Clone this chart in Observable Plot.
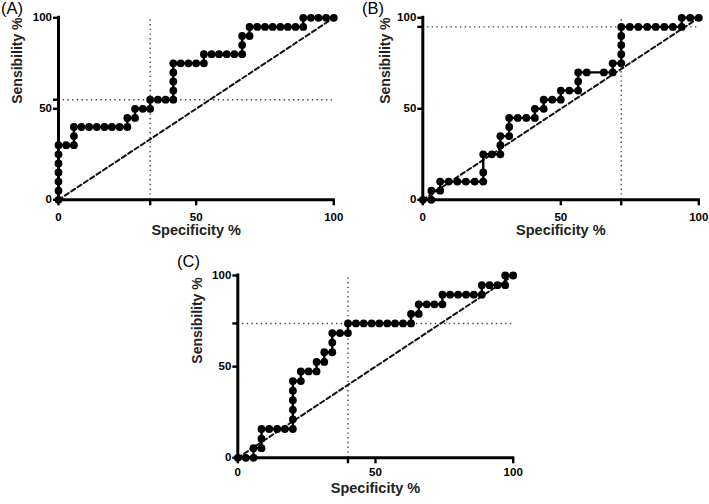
<!DOCTYPE html>
<html>
<head>
<meta charset="utf-8">
<script src="https://cdn.jsdelivr.net/npm/d3@7"></script>
<script src="https://cdn.jsdelivr.net/npm/@observablehq/plot@0.6"></script>
<style>
  html, body { margin: 0; padding: 0; background: #fff; }
  #root { position: relative; width: 709px; height: 504px; overflow: hidden; font-family: "Liberation Sans", Arial, sans-serif; }
  #root > div { position: absolute; }
</style>
</head>
<body>
<div id="root"></div>
<script>
// ---------- data ----------
const panelLabels = ["(A)", "(B)", "(C)"];
const xTitle = "Specificity %";
const yTitle = "Sensibility %";
const tickLabels = [0, 50, 100];
const chance = [0, 100];

// Panel A
const specA = [0,0,0,0,0,0,0, 2.8, 5.6,5.6,5.6, 8.3,11.1,13.9,16.7,19.4,22.2,25, 25, 27.8,27.8, 30.6, 33.3,33.3,
  36.1,38.9,41.7, 41.7,41.7,41.7,41.7, 44.4,47.2,50,52.8, 52.8, 55.6,58.3,61.1,63.9,66.7, 66.7,66.7, 69.4,69.4,
  72.2,75,77.8,80.6,83.3,86.1,88.9, 88.9, 91.7,94.4,97.2,100];
const sensA = [0,5,10,15,20,25,30, 30, 30,35,40, 40,40,40,40,40,40,40, 45, 45,50, 50, 50,55,
  55,55,55, 60,65,70,75, 75,75,75,75, 80, 80,80,80,80,80, 85,90, 90,95,
  95,95,95,95,95,95,95, 100, 100,100,100,100];
const cutA = {spec: 33.3, sens: 55};

// Panel B
const specB = [0,3.1,3.1,6.3,6.3,9.4,12.5,15.6,18.8,21.9,21.9,21.9, 25,28.1,28.1,28.1, 31.3,31.3,31.3,
  34.4,37.5,40.6,40.6, 43.8,43.8, 46.9,50,50, 53.1,56.3,56.3,56.3, 59.4,65.6,68.8,68.8,
  71.9,71.9,71.9,71.9,71.9, 75,78.1,81.3,84.4,87.5,90.6,93.8,93.8, 96.9,100];
const sensB = [0,0,5,5,10,10,10,10,10,10,15,25, 25,25,30,35, 35,40,45,
  45,45,45,50, 50,55, 55,55,60, 60,60,65,70, 70,70,70,75,
  75,80,85,90,95, 95,95,95,95,95,95,95,100, 100,100];
const cutB = {spec: 71.9, sens: 95};

// Panel C
const specC = [0,2.9,5.7,5.7,8.6,8.6,8.6,11.4,14.3,17.1,20,20,20,20,20,20, 22.9,22.9, 25.7,28.6,28.6, 31.4,31.4,
  34.3,34.3,34.3, 37.1,40,40, 42.9,45.7,48.6,51.4,54.3,57.1,60,62.9, 62.9, 65.7,65.7, 68.6,71.4,74.3, 74.3,
  77.1,80,82.9,85.7,88.6, 88.6, 91.4,94.3,97.1, 97.1, 100];
const sensC = [0,0,0,5.3,5.3,10.5,15.8,15.8,15.8,15.8,15.8,21.1,26.3,31.6,36.8,42.1, 42.1,47.4, 47.4,47.4,52.6, 52.6,57.9,
  57.9,63.2,68.4, 68.4,68.4,73.7, 73.7,73.7,73.7,73.7,73.7,73.7,73.7,73.7, 78.9, 78.9,84.2, 84.2,84.2,84.2, 89.5,
  89.5,89.5,89.5,89.5,89.5, 94.7, 94.7,94.7,94.7, 100, 100];
const cutC = {spec: 40, sens: 73.7};

// ---------- drawing ----------
const FONT = "'Liberation Sans', Arial, Helvetica, sans-serif";

function panel(opts) {
  const {spec, sens, cut, label, left, top, width, height, mL, mR, mT, mB, labelPos, yTitleDx, yTitleDy, xTitleDy, xTickPad} = opts;
  const data = spec.map((s, i) => ({spec: s, sens: sens[i]}));
  const fmt = d => tickLabels.includes(d) ? String(d) : "";
  const svg = Plot.plot({
    width, height,
    marginLeft: mL, marginRight: mR, marginTop: mT, marginBottom: mB,
    x: {domain: [0, 100], axis: null},
    y: {domain: [0, 100], axis: null},
    style: {fontFamily: FONT, background: "transparent", overflow: "visible", color: "#000"},
    marks: [
      Plot.ruleX([cut.spec], {y1: 0, y2: 100, stroke: "#444", strokeWidth: 1.4, strokeDasharray: "1.4,3.3"}),
      Plot.ruleY([cut.sens], {x1: 0, x2: 100, stroke: "#444", strokeWidth: 1.4, strokeDasharray: "1.4,3.3"}),
      Plot.line(chance, {x: d => d, y: d => d, stroke: "#111", strokeWidth: 2, strokeDasharray: "4.6,3"}),
      Plot.line(data, {x: "spec", y: "sens", stroke: "#000", strokeWidth: 2.4}),
      Plot.dot(data, {x: "spec", y: "sens", r: 3.9, fill: "#000", stroke: "none"}),
      Plot.ruleX([0], {stroke: "#000", strokeWidth: 3, strokeLinecap: "square"}),
      Plot.ruleY([0], {stroke: "#000", strokeWidth: 3, strokeLinecap: "square"}),
      Plot.axisX({ticks: [...tickLabels, cut.spec], tickFormat: fmt, tickSize: 6, tickPadding: xTickPad, label: null,
        strokeWidth: 2.4, fontSize: 11.5, fontWeight: "bold", fill: "#000", stroke: "#000"}),
      Plot.axisY({ticks: [...tickLabels, cut.sens], tickFormat: fmt, tickSize: 5, tickPadding: 1.5, label: null,
        strokeWidth: 2.4, fontSize: 11.5, fontWeight: "bold", fill: "#000", stroke: "#000"}),
      Plot.text([xTitle], {text: d => d, frameAnchor: "bottom", dy: xTitleDy, fontSize: 14.5, fontWeight: "bold", fill: "#222"}),
      Plot.text([yTitle], {text: d => d, frameAnchor: "left", dx: yTitleDx, dy: yTitleDy, rotate: -90, fontSize: 14, fontWeight: "bold", fill: "#222"}),
      Plot.text([label], {text: d => d, frameAnchor: "top-left", dx: labelPos[0] - mL, dy: labelPos[1] - mT,
        textAnchor: "start", lineAnchor: "top", fontSize: 16.5, fill: "#000"})
    ]
  });
  const wrap = document.createElement("div");
  wrap.style.left = left + "px";
  wrap.style.top = top + "px";
  wrap.appendChild(svg);
  document.getElementById("root").appendChild(wrap);
}

panel({spec: specA, sens: sensA, cut: cutA, label: panelLabels[0],
  left: 0, top: 0, width: 354, height: 250, mL: 58, mR: 20.7, mT: 17.3, mB: 50.7,
  labelPos: [0.5, 1.5], yTitleDx: -40.5, yTitleDy: -5, xTitleDy: 35, xTickPad: 7});
panel({spec: specB, sens: sensB, cut: cutB, label: panelLabels[1],
  left: 354, top: 0, width: 355, height: 250, mL: 68.3, mR: 10.7, mT: 17.3, mB: 50.7,
  labelPos: [7.5, 1.5], yTitleDx: -37.3, yTitleDy: -5, xTitleDy: 35, xTickPad: 7});
panel({spec: specC, sens: sensC, cut: cutC, label: panelLabels[2],
  left: 175, top: 250, width: 360, height: 254, mL: 62.3, mR: 22.3, mT: 25, mB: 46.7,
  labelPos: [1.5, 4.5], yTitleDx: -40.6, yTitleDy: -3, xTitleDy: 35, xTickPad: 4.5});
</script>
</body>
</html>
